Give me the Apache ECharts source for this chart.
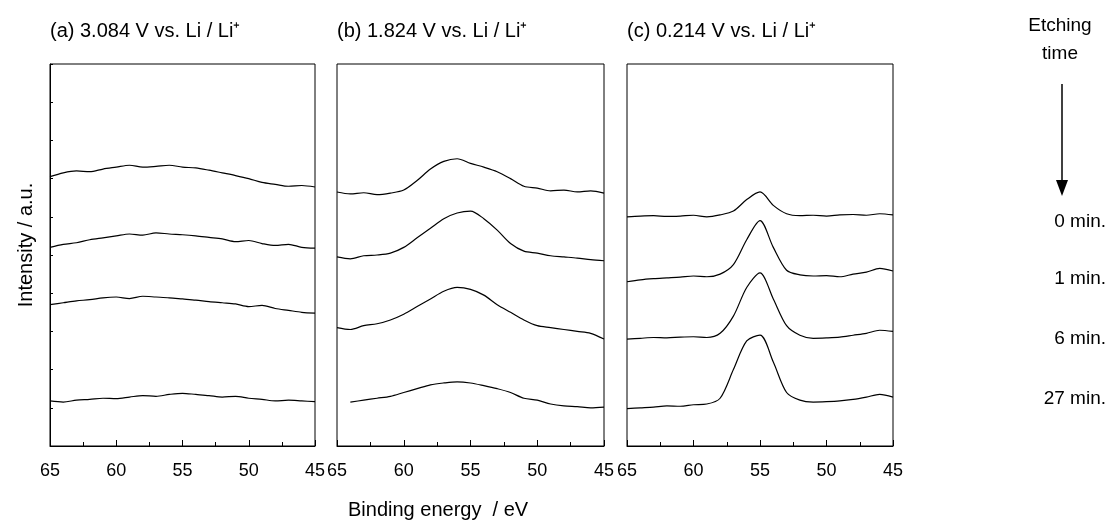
<!DOCTYPE html>
<html>
<head>
<meta charset="utf-8">
<script src="https://cdn.jsdelivr.net/npm/echarts@6/dist/echarts.min.js"></script>
<style>html,body{margin:0;padding:0;background:#fff}#c{width:1108px;height:526px}</style>
</head>
<body>
<div id="c"></div>
<script>
// binding energy sampled at 1 eV, 65 -> 45
const energies = [65,64,63,62,61,60,59,58,57,56,55,54,53,52,51,50,49,48,47,46,45]

const panelTitles = ['(a) 3.084 V vs. Li / Li\u207A', '(b) 1.824 V vs. Li / Li\u207A', '(c) 0.214 V vs. Li / Li\u207A']
const etchLabels = ['0 min.', '1 min.', '6 min.', '27 min.']
const xTicks = [65, 60, 55, 50, 45]

// panel (a) traces, 0 / 1 / 6 / 27 min (offset intensities)
const a0 = [70.5,71.5,72,71.8,72.5,73,73.5,73,73.2,73.5,73,72.8,72.2,71.5,70.8,70,69,68.5,68,68.2,67.8]
const a1 = [52,52.8,53.2,54,54.5,55,55.5,55.2,55.8,55.5,55.3,55,54.6,54.2,53.5,53.8,53,52.5,52.8,52,51.8]
const a6 = [37,37.5,38,38.3,38.8,39,38.6,39.2,39,38.8,38.5,38.2,37.8,37.5,37.2,36.5,36.8,36,35.5,35,34.8]
const a27 = [11.8,11.5,12,12.2,12.5,12.4,12.8,13.2,13,13.5,13.8,13.5,13.2,12.8,13,12.5,12.2,11.8,12,11.8,11.6]
// panel (b)
const b0 = [66.5,66,66.3,65.8,66.2,67,69.5,72.5,74.5,75.2,74,73,71.8,70,68,67.5,66.8,67,66.5,66.8,66.2]
const b1 = [49.5,49,49.8,50,50.5,52,54.5,57,59.5,61,61.5,59.5,56.5,53,51,50.5,49.8,49.5,49.2,48.8,48.5]
const b6 = [31,30.5,31.5,32,33,34.5,36.5,38.5,40.5,41.5,41,39.5,37,35,33,31.5,31,30.5,30,29.5,28]
const b27 = [null,11.5,12,12.5,13,14,15,16,16.5,16.8,16.5,15.8,15,14,12.5,12,11,10.5,10.3,10,10.2]
// panel (c)
const c0 = [60,60.2,60.3,60.1,60.2,60.4,60,60.5,61.5,64.5,66.5,63,60.8,60.3,60.4,60.2,60.5,60.6,60.4,60.8,60.5]
const c1 = [43,43.5,43.8,44,44.2,44.5,44.3,45,47.5,54,59,52,46,44.8,44.5,44.6,44.3,45,45.5,46.5,45.8]
const c6 = [28,28.2,28.4,28.3,28.5,28.6,28.4,29.5,34,41.5,45.3,38.5,31.5,29,28.2,28.3,28.5,29,29.5,30.3,30]
const c27 = [9.8,10,10.2,10.5,10.4,10.8,11,12.5,20,27.5,29,22,14,12,11.5,11.6,11.8,12.2,12.8,13.5,12.8]

const panels = [[a0,a1,a6,a27],[b0,b1,b6,b27],[c0,c1,c6,c27]]
const gridLeft = [50, 337, 627]
const gridWidth = [265, 267, 266]

const font = 'Liberation Sans, Arial, sans-serif'
const chart = echarts.init(document.getElementById('c'))

const grid = [], xAxis = [], yAxis = [], series = []
panels.forEach((traces, i) => {
    grid.push({ left: gridLeft[i], width: gridWidth[i], top: 64, height: 382, show: true, borderColor: '#000', borderWidth: 1 })
    xAxis.push({
        type: 'value', gridIndex: i, min: 45, max: 65, interval: 5, inverse: true,
        axisLine: { lineStyle: { color: '#000' } },
        axisTick: { inside: true, length: 6, lineStyle: { color: '#000' } },
        minorTick: { show: true, splitNumber: 2, length: 4, lineStyle: { color: '#000' } },
        axisLabel: { color: '#000', fontSize: 18, fontFamily: font, margin: 16, formatter: v => xTicks.includes(v) ? v : '' },
        splitLine: { show: false }
    })
    yAxis.push({
        type: 'value', gridIndex: i, min: 0, max: 100, interval: 10,
        axisLine: { show: i === 0, lineStyle: { color: '#000' } },
        axisTick: { show: i === 0, inside: true, length: 3, lineStyle: { color: '#000' } },
        axisLabel: { show: false }, splitLine: { show: false }
    })
    traces.forEach(vals => {
        series.push({
            type: 'line', xAxisIndex: i, yAxisIndex: i, symbol: 'none', silent: true, smooth: 0.3,
            lineStyle: { color: '#000', width: 1.2 },
            data: energies.map((e, k) => [e, vals[k]])
        })
    })
})

const graphic = panelTitles.map((t, i) => ({
    type: 'text', left: gridLeft[i], top: 21,
    style: { text: t, font: '20px ' + font, fill: '#000' }
}))
graphic.push(
    { type: 'text', left: 348, top: 500, style: { text: 'Binding energy  / eV', font: '20px ' + font, fill: '#000' } },
    { type: 'text', x: 26, y: 245, rotation: Math.PI / 2, style: { text: 'Intensity / a.u.', font: '20px ' + font, fill: '#000', align: 'center', verticalAlign: 'middle' } },
    { type: 'text', x: 1060, y: 12, style: { text: 'Etching\ntime', font: '19px ' + font, fill: '#000', align: 'center', lineHeight: 28 } },
    { type: 'line', shape: { x1: 1062, y1: 84, x2: 1062, y2: 184 }, style: { stroke: '#000', lineWidth: 1.5 } },
    { type: 'polygon', shape: { points: [[1056, 180], [1068, 180], [1062, 196]] }, style: { fill: '#000' } }
)
etchLabels.forEach((t, i) => {
    graphic.push({ type: 'text', right: 2, top: [212, 269, 329, 389][i], style: { text: t, font: '19px ' + font, fill: '#000' } })
})

chart.setOption({ animation: false, grid, xAxis, yAxis, series, graphic })
</script>
</body>
</html>
